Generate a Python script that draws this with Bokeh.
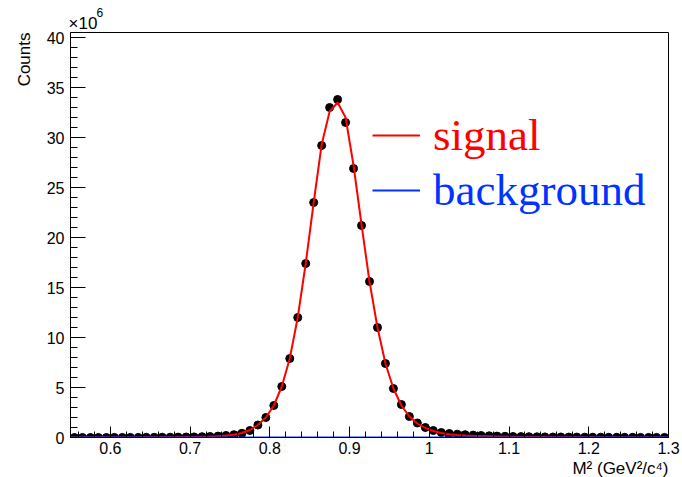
from bokeh.plotting import figure
from bokeh.models import (Range1d, FixedTicker, Legend, LegendItem, Title)
from bokeh.embed import file_html
from bokeh.resources import INLINE

# ---- data (counts in units of 10^6) ----
bin_centers = [0.555, 0.565, 0.575, 0.585, 0.595, 0.605, 0.615, 0.625, 0.635, 0.645,
               0.655, 0.665, 0.675, 0.685, 0.695, 0.705, 0.715, 0.725, 0.735, 0.745,
               0.755, 0.765, 0.775, 0.785, 0.795, 0.805, 0.815, 0.825, 0.835, 0.845,
               0.855, 0.865, 0.875, 0.885, 0.895, 0.905, 0.915, 0.925, 0.935, 0.945,
               0.955, 0.965, 0.975, 0.985, 0.995, 1.005, 1.015, 1.025, 1.035, 1.045,
               1.055, 1.065, 1.075, 1.085, 1.095, 1.105, 1.115, 1.125, 1.135, 1.145,
               1.155, 1.165, 1.175, 1.185, 1.195, 1.205, 1.215, 1.225, 1.235, 1.245,
               1.255, 1.265, 1.275, 1.285, 1.295]

counts = [0.00, 0.00, 0.00, 0.00, 0.00, 0.01, 0.01, 0.01, 0.01, 0.02,
          0.02, 0.03, 0.03, 0.04, 0.05, 0.06, 0.08, 0.10, 0.14, 0.20,
          0.28, 0.42, 0.70, 1.25, 2.00, 3.20, 5.10, 7.90, 12.0, 17.4,
          23.5, 29.2, 33.0, 33.8, 31.5, 26.9, 21.2, 15.6, 11.0, 7.40,
          4.90, 3.30, 2.10, 1.45, 1.00, 0.70, 0.50, 0.40, 0.33, 0.28,
          0.24, 0.20, 0.17, 0.14, 0.12, 0.10, 0.09, 0.08, 0.07, 0.06,
          0.05, 0.05, 0.04, 0.04, 0.03, 0.03, 0.03, 0.02, 0.02, 0.02,
          0.02, 0.01, 0.01, 0.01, 0.01]

signal_x = [0.55] + bin_centers + [1.30]
signal_y = [0.00, 0.00, 0.00, 0.00, 0.00, 0.00, 0.01, 0.01, 0.01, 0.01, 0.02,
            0.02, 0.02, 0.03, 0.04, 0.05, 0.06, 0.08, 0.10, 0.13, 0.19,
            0.28, 0.45, 0.75, 1.25, 2.00, 3.20, 5.10, 7.90, 12.0, 17.4,
            23.5, 29.3, 32.6, 33.5, 32.0, 27.2, 21.3, 15.6, 11.0, 7.40,
            4.90, 3.20, 2.10, 1.40, 0.95, 0.65, 0.45, 0.33, 0.26, 0.21,
            0.17, 0.14, 0.12, 0.10, 0.08, 0.07, 0.06, 0.05, 0.04, 0.04,
            0.03, 0.03, 0.02, 0.02, 0.02, 0.02, 0.01, 0.01, 0.01, 0.01,
            0.01, 0.01, 0.01, 0.00, 0.00, 0.00]

background_x = [0.55, 1.30]
background_y = [0.0, 0.0]

x_ticks = [0.6, 0.7, 0.8, 0.9, 1.0, 1.1, 1.2, 1.3]
x_tick_labels = ["0.6", "0.7", "0.8", "0.9", "1", "1.1", "1.2", "1.3"]
y_ticks = [0, 5, 10, 15, 20, 25, 30, 35, 40]
y_tick_labels = ["0", "5", "10", "15", "20", "25", "30", "35", "40"]

x_range = (0.55, 1.30)
y_range = (0.0, 40.5)

FONT = "Liberation Sans"

p = figure(width=682, height=477, output_backend="svg", toolbar_location=None,
           x_range=Range1d(*x_range), y_range=Range1d(*y_range),
           min_border_left=70, min_border_right=14, min_border_top=32,
           min_border_bottom=40)
p.grid.visible = False
p.outline_line_color = "black"
p.outline_line_width = 1
p.background_fill_color = "white"
p.border_fill_color = "white"

# axes
xminor = [round(0.56 + 0.02 * i, 2) for i in range(38)]
yminor = list(range(0, 41))
p.xaxis.ticker = FixedTicker(ticks=x_ticks, minor_ticks=xminor)
p.yaxis.ticker = FixedTicker(ticks=y_ticks, minor_ticks=yminor)
p.xaxis.major_label_overrides = dict(zip(x_ticks, x_tick_labels))
p.yaxis.major_label_overrides = dict(zip(y_ticks, y_tick_labels))
for ax in (p.xaxis, p.yaxis):
    ax.axis_line_color = "black"
    ax.axis_line_width = 1
    ax.major_tick_line_color = "black"
    ax.minor_tick_line_color = "black"
    ax.major_tick_out = 0
    ax.minor_tick_out = 0
    ax.major_label_text_font = FONT
    ax.major_label_text_font_size = "16px"
    ax.major_label_text_color = "black"
p.xaxis.major_tick_in = 11
p.xaxis.minor_tick_in = 6
p.yaxis.major_tick_in = 15
p.yaxis.minor_tick_in = 7
p.xaxis.major_label_standoff = 4
p.yaxis.major_label_standoff = 6

# data
p.scatter(bin_centers, counts, size=8, color="black")
sig = p.line(signal_x, signal_y, line_color="#ff0000", line_width=2)
bkg = p.line(background_x, background_y, line_color="#0033ff", line_width=2)

# legends
leg1 = Legend(items=[LegendItem(label="signal", renderers=[sig])],
              location=(302, 276), label_text_color="#ff0000")
leg2 = Legend(items=[LegendItem(label="background", renderers=[bkg])],
              location=(302, 221), label_text_color="#0033ff")
for lg in (leg1, leg2):
    lg.label_text_font = "Liberation Serif"
    lg.label_text_font_size = "45px"
    lg.label_text_font_style = "normal"
    lg.glyph_width = 48
    lg.label_standoff = 13
    lg.padding = 0
    lg.margin = 0
    lg.spacing = 0
    lg.border_line_alpha = 0
    lg.background_fill_alpha = 0
    p.add_layout(lg)

# axis titles and exponent
def side_title(text, align, size="16px", standoff=0, offset=0):
    return Title(text=text, align=align, text_font=FONT, text_font_size=size,
                 text_font_style="normal", text_color="black",
                 standoff=standoff, offset=offset)

p.add_layout(side_title("\u00d710", "left", size="17px", standoff=0, offset=-2), "above")
p.add_layout(side_title("6", "left", size="12px", standoff=-11, offset=26), "above")
p.add_layout(side_title("Counts", "right", size="17px", standoff=20), "left")
p.add_layout(side_title("M\u00b2 (GeV\u00b2/c\u2074)", "right", size="17px"), "below")

open("out.html", "w").write(file_html(p, INLINE))
